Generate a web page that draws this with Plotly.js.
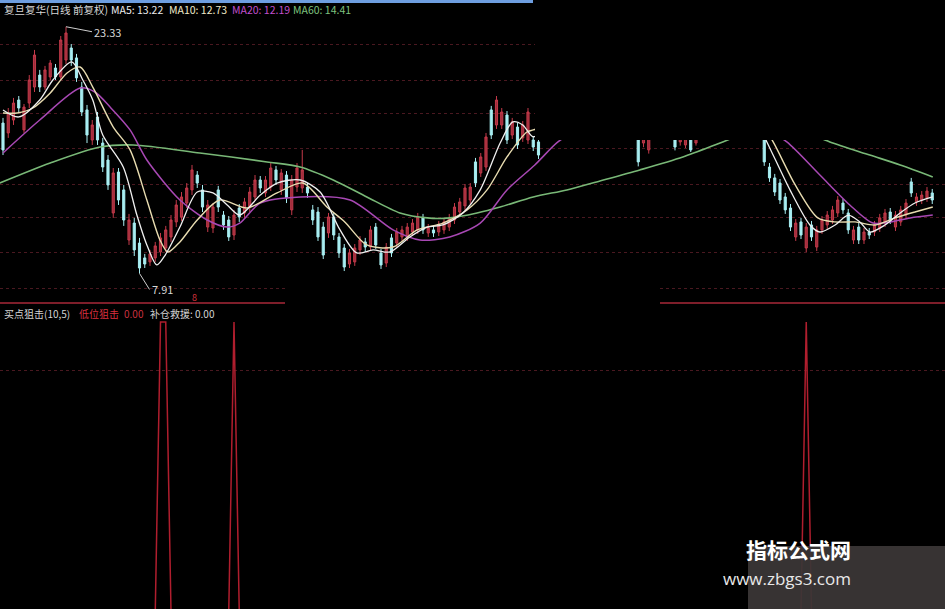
<!DOCTYPE html>
<html>
<head>
<meta charset="utf-8">
<script src="https://cdn.plot.ly/plotly-3.0.1.min.js"></script>
<style>html,body{margin:0;padding:0;background:#000;}#chart{width:945px;height:609px;}</style>
</head>
<body>
<div id="chart"></div>
<script>
// ---- candle data (price) ----
const openP = [17.31,16.69,17.5,18.75,16.88,18.56,19.56,20.31,19.56,20.19,20.75,20.19,21.25,22.0,21.38,19.56,18.13,16.25,17.69,16.06,
15.0,11.69,14.25,13.13,10.0,11.06,9.81,8.88,8.63,8.88,9.25,9.5,10.19,11.13,11.44,12.31,13.13,14.06,13.13,10.81,
10.75,13.13,11.56,11.25,10.31,12.0,11.69,12.06,12.69,13.75,12.94,13.31,14.38,13.13,14.06,11.88,13.31,13.25,13.31,11.88,
11.75,10.81,10.44,11.44,10.19,9.5,8.5,8.63,9.38,9.88,9.56,10.81,9.19,8.56,10.13,9.81,10.19,10.19,10.5,10.63,
11.38,10.44,10.63,10.5,10.63,10.81,11.25,11.75,12.13,12.5,14.88,14.19,14.56,18.13,17.19,17.19,17.81,16.56,17.06,16.38,
16.25,16.25,16.13,16.9,17.4,18.0,17.8,18.7,19.3,18.8,19.7,20.1,19.4,18.9,19.3,18.5,17.9,18.3,17.6,17.2,
17.6,17.0,16.06,15.63,16.9,17.6,18.1,17.4,16.8,16.13,15.94,16.8,16.06,16.8,17.4,18.0,18.6,18.3,18.8,19.3,
19.0,18.5,18.0,17.5,17.1,17.4,14.56,13.88,13.56,12.69,12.0,10.19,11.13,9.5,10.94,9.56,10.63,10.94,11.25,11.69,
12.31,11.69,10.0,10.81,10.0,10.5,10.5,10.75,11.06,11.75,10.81,11.13,11.56,13.63,12.38,12.5,12.63,12.94];
const highP = [17.63,18.25,18.88,19.0,18.5,20.31,21.88,20.63,20.88,21.25,21.0,22.75,23.33,22.25,21.63,19.88,18.44,17.5,18.0,16.38,
15.31,14.5,14.5,13.44,11.63,11.38,10.13,9.13,9.38,9.88,10.44,10.88,11.56,12.5,13.0,13.56,14.69,14.31,13.44,12.5,
12.31,13.38,11.81,11.5,11.88,12.25,12.63,13.31,14.06,14.0,14.0,14.81,14.63,14.44,14.31,14.06,14.81,15.63,13.56,12.19,
12.06,11.13,11.69,11.69,10.44,9.75,9.44,9.75,10.25,10.13,10.88,11.06,9.44,9.81,10.38,10.75,10.88,11.06,11.31,11.69,
11.63,11.0,10.88,11.19,11.38,11.63,12.31,12.63,13.5,13.56,15.13,15.44,16.69,18.38,19.0,18.25,18.06,17.63,17.31,17.44,
18.25,16.5,16.38,17.6,18.2,18.6,18.9,19.5,19.6,19.9,20.4,20.3,19.8,19.5,19.6,18.8,18.5,18.6,17.9,17.8,
17.9,17.3,17.5,17.3,17.8,18.3,18.4,17.6,17.1,17.2,17.0,17.1,17.2,17.6,18.2,18.8,19.1,19.0,19.5,19.7,
19.4,18.9,18.3,17.9,17.4,17.6,14.81,14.13,13.81,12.94,12.25,11.31,11.38,11.06,11.19,10.88,11.5,11.81,12.13,12.75,
12.56,11.94,10.88,11.06,10.75,10.75,11.19,11.63,11.94,12.0,11.81,12.13,12.56,13.88,12.94,13.06,13.31,13.19];
const lowP = [15.31,16.38,17.19,18.0,16.69,18.25,19.25,19.25,19.38,20.0,20.0,20.0,21.0,20.88,19.88,17.75,16.06,15.94,15.94,14.25,
13.13,11.38,12.19,10.88,9.69,9.0,7.91,8.25,8.38,8.63,9.0,9.25,9.88,10.81,11.19,12.0,12.81,13.25,11.75,10.5,
10.44,11.75,10.63,9.94,10.0,11.13,11.38,11.75,12.44,12.94,12.69,13.06,13.44,12.81,12.31,11.56,13.0,12.94,12.63,10.94,
9.94,8.81,10.13,10.0,8.88,8.06,8.25,8.38,9.06,9.25,9.31,9.44,8.19,8.31,8.94,9.56,9.94,9.94,10.25,10.38,
10.38,10.19,10.19,10.25,10.38,10.56,11.0,11.5,11.88,12.25,13.31,13.94,14.31,16.31,16.94,16.94,16.0,16.31,15.69,16.13,
16.0,15.56,15.06,16.7,17.2,17.6,17.6,18.4,18.6,18.6,19.3,19.2,18.7,18.5,18.3,17.7,17.5,17.4,16.9,16.9,
16.8,14.6,15.8,15.4,16.6,17.3,17.2,16.5,15.6,15.9,15.75,15.5,15.9,16.6,17.2,17.7,18.1,18.0,18.5,18.7,
18.3,17.8,17.3,16.9,16.6,14.63,13.63,12.75,12.25,11.63,10.56,9.94,10.06,9.25,9.94,9.31,10.38,10.69,11.0,11.44,
11.63,10.38,9.75,9.75,9.75,10.06,10.25,10.5,10.81,11.0,10.56,10.88,11.31,12.69,12.13,12.25,12.38,12.25];
const closeP = [15.63,17.94,18.56,18.25,18.31,20.0,21.56,19.56,20.63,21.06,20.19,22.5,22.94,21.25,20.13,18.0,16.56,17.19,16.25,14.56,
13.44,14.19,12.5,11.25,11.25,9.38,8.25,8.5,9.13,9.63,10.13,10.63,11.25,12.19,12.69,13.25,14.38,13.56,12.06,12.19,
12.06,12.06,10.94,10.19,11.56,11.44,12.38,13.0,13.75,13.25,13.75,14.5,13.75,14.19,12.63,13.75,14.5,14.38,12.94,11.25,
10.19,9.06,11.44,10.31,9.19,8.31,9.19,9.5,10.0,9.56,10.63,9.69,8.44,9.56,9.19,10.5,10.63,10.81,11.06,11.44,
10.63,10.75,10.44,10.94,11.13,11.38,12.06,12.38,13.25,13.31,13.56,15.19,16.44,16.56,18.75,18.0,16.25,17.38,15.94,17.19,
18.0,15.81,15.31,17.4,18.0,17.8,18.7,19.3,18.8,19.7,20.1,19.4,18.9,19.3,18.5,17.9,18.3,17.6,17.2,17.6,
17.0,14.88,17.2,16.9,17.6,18.1,17.4,16.7,15.81,16.9,16.7,15.63,16.8,17.4,18.0,18.6,18.3,18.8,19.3,19.0,
18.5,18.0,17.5,17.1,16.8,14.88,13.88,13.0,12.5,11.88,10.81,11.06,10.31,10.81,10.19,10.63,11.25,11.56,11.88,12.5,
11.88,10.63,10.63,10.0,10.5,10.31,10.94,11.38,11.69,11.25,11.56,11.88,12.31,12.94,12.69,12.81,13.06,12.5];
const dayIndex = openP.map((_, i) => i);

// ---- moving averages (bar index, price) ----
const ma5X = [0,3,7,9.5,13.1,15.2,17.1,19,22.9,25.5,27.4,29.3,30.9,33.7,37,40,42.7,45.1,49,52.2,56.6,60.4,64.2,67.4,70.5,73.7,77.5,80.8,83.8,87.6,90.9,94.7,97.1,99,101,103,106,110,114,118,122,126,130,134,138,141,143.5,145.5,149.9,153.7,155.6,158.5,161,163.2,165.1,168,170.9,173.7,177.1];
const ma5Y = [18.13,17.69,18.75,20.0,21.13,20.0,18.75,16.56,14.56,11.56,9.69,8.44,9.06,10.81,13.0,12.94,12.19,11.56,12.81,13.56,13.75,13.0,10.63,9.19,9.38,9.25,10.19,10.81,10.94,11.69,13.13,16.06,17.38,17.19,16.44,16.9,17.8,19.3,19.3,17.9,16.8,17.3,16.6,17.2,18.6,18.5,17.4,16.13,13.13,10.94,10.5,10.94,11.56,11.13,10.5,10.94,11.69,12.31,12.69];
const ma10X = [0,2.7,5.7,9,12.2,14.7,17.1,21,24.2,27.4,29.9,31.4,33.7,37,41.3,46.5,52.2,57.1,61.7,65.1,69.3,74.3,78.9,83.8,88.4,92.2,96,99.8,101,104,108,112,116,120,124,128,132,136,140,143.5,146.7,150.9,155.2,158.5,162.3,166.1,169.9,173.7,177.1];
const ma10Y = [17.94,17.94,18.25,19.19,20.44,20.81,19.56,17.06,15.63,12.5,10.0,9.25,9.88,11.25,12.5,12.0,12.94,13.56,12.06,11.13,9.69,9.56,10.63,11.06,11.88,13.13,15.19,16.75,16.88,17.2,18.0,18.9,18.8,18.0,17.4,17.1,17.0,17.5,18.2,17.8,16.13,13.44,11.38,11.13,11.13,10.94,11.38,11.75,12.06];
const ma20X = [0,7,14.7,17.5,20.4,24.2,27.4,33.7,38.9,42.7,45.1,49,56.6,66.1,74.3,79.4,85.1,90.9,96,101.3,105.7,110,115,120,125,130,135,140,145,149.3,155.6,161.3,165.7,169,172.8,177.1];
const ma20Y = [15.44,17.5,19.5,19.25,18.31,16.88,15.0,12.5,11.25,10.81,11.06,12.31,12.69,12.5,10.63,10.0,10.19,11.06,13.13,14.69,16.13,17.0,17.7,17.9,17.6,17.4,17.4,17.6,17.0,16.13,14.06,12.19,11.06,11.13,11.38,11.56];
const ma60X = [-0.6,9,18.5,24.8,37.5,50.3,56.6,62.9,69.3,75.6,80.8,85.1,90.3,94.7,101,107.4,113.7,121.3,129.5,137.1,144.2,150.9,157.5,165.1,170.9,177.1];
const ma60Y = [13.56,14.81,15.81,15.94,15.44,14.88,14.56,13.75,12.69,11.69,11.38,11.38,11.69,12.06,12.69,13.13,13.69,14.38,15.19,16.13,17.0,17.0,16.13,15.31,14.69,13.94];

// ---- lower indicator (买点狙击) sparse readings ----
const sigX = [0,29,30,31,32,43,44,45,152,153,154,177];
const sigY = [0,0,100,100,0,0,100,0,0,100,0,0];

// ---- labels ----
const titleMain = '复旦复华(日线 前复权)';
const maLabels = ['MA5: 13.22','MA10: 12.73','MA20: 12.19','MA60: 14.41'];
const lowerLabels = ['买点狙击(10,5)','低位狙击','0.00','补仓救援: 0.00'];
const highLabel = '23.33', lowLabel = '7.91';
const gridPrices = [22.19,20.0,17.88,15.69,13.5,11.38,9.19,7.0];
const gridSignal = [83.4];

const W = 945, H = 609;
const px = x => x / W;
const py = y => 1 - y / H;
const FONT = 'Noto Sans CJK SC, Liberation Sans, sans-serif';

const traces = [
  {type:'candlestick', x: dayIndex, open: openP, high: highP, low: lowP, close: closeP,
   xaxis:'x', yaxis:'y', hoverinfo:'skip', whiskerwidth:0,
   increasing:{line:{color:'#c43a4a', width:1}, fillcolor:'#9c2c3a'},
   decreasing:{line:{color:'#a8eef2', width:1}, fillcolor:'#a8eef2'}},
  {type:'scatter', mode:'lines', x: ma60X, y: ma60Y, line:{color:'#79b877', width:1.6, shape:'spline', smoothing:0.8}, hoverinfo:'skip'},
  {type:'scatter', mode:'lines', x: ma20X, y: ma20Y, line:{color:'#a848b4', width:1.5, shape:'spline', smoothing:0.8}, hoverinfo:'skip'},
  {type:'scatter', mode:'lines', x: ma10X, y: ma10Y, line:{color:'#e8dcb0', width:1.4, shape:'spline', smoothing:0.8}, hoverinfo:'skip'},
  {type:'scatter', mode:'lines', x: ma5X, y: ma5Y, line:{color:'#f0f0f0', width:1.3, shape:'spline', smoothing:0.8}, hoverinfo:'skip'},
  {type:'scatter', mode:'lines', x: sigX, y: sigY, xaxis:'x', yaxis:'y2', line:{color:'#b01e2e', width:1.5}, hoverinfo:'skip'}
];

const maColors = ['#ececec','#efe9c8','#c24fcc','#7ec27e'];
const maPos = [109,167,230,291];
const ann = [
  {xref:'paper', yref:'paper', x: px(2), y: py(10), xanchor:'left', yanchor:'middle', text: titleMain, showarrow:false, font:{family:FONT, size:10.5, color:'#d6d6d6'}}
];
maLabels.forEach((t,k) => ann.push({xref:'paper', yref:'paper', x: px(maPos[k]), y: py(10), xanchor:'left', yanchor:'middle', text:t, showarrow:false, font:{family:FONT, size:10.5, color:maColors[k]}}));
const lowColors = ['#d4d4d4','#d8303f','#c8303f','#d4d4d4'];
const lowPos = [2,77,122,148];
lowerLabels.forEach((t,k) => ann.push({xref:'paper', yref:'paper', x: px(lowPos[k]), y: py(313), xanchor:'left', yanchor:'middle', text:t, showarrow:false, font:{family:FONT, size:10, color:lowColors[k]}}));
ann.push({xref:'x', yref:'y', x: 12, y: 23.33, text: highLabel, showarrow:true, arrowhead:0, arrowwidth:1, arrowcolor:'#cfcfcf', ax: 26, ay: 5, xanchor:'left', font:{family:FONT, size:11, color:'#d6d6d6'}});
ann.push({xref:'x', yref:'y', x: 26, y: 7.91, text: lowLabel, showarrow:true, arrowhead:0, arrowwidth:1, arrowcolor:'#cfcfcf', ax: 10, ay: 16, xanchor:'left', font:{family:FONT, size:11, color:'#d6d6d6'}});
ann.push({xref:'paper', yref:'paper', x: px(190), y: py(297), text:'8', showarrow:false, font:{family:FONT, size:9, color:'#d0303c'}});
ann.push({xref:'paper', yref:'paper', x: px(853), y: py(566), text:'<b>指标公式网</b>', showarrow:false, font:{family:FONT, size:21, color:'#ffffff'}});
ann.push({xref:'paper', yref:'paper', x: px(853), y: py(592), text:'www.zbgs3.com', showarrow:false, font:{family:'Open Sans, DejaVu Sans, sans-serif', size:17, color:'#e8e8e8'}});

const shapes = [
  // masked top-right area of the screenshot
  {type:'rect', xref:'paper', yref:'paper', x0: px(535), x1: 1, y0: py(140), y1: 1, fillcolor:'#000', line:{width:0}, layer:'above'},
  // masked strip around the separator
  {type:'rect', xref:'paper', yref:'paper', x0: px(285), x1: px(660), y0: py(309), y1: py(277), fillcolor:'#000', line:{width:0}, layer:'above'},
  // blue title strip
  {type:'rect', xref:'paper', yref:'paper', x0: 0, x1: px(533), y0: py(3), y1: 1, fillcolor:'#6e9ee0', line:{width:0}, layer:'above'},
  // separator line
  {type:'line', xref:'paper', yref:'paper', x0: 0, x1: px(285), y0: py(303), y1: py(303), line:{color:'#a82838', width:1.5}, layer:'above'},
  {type:'line', xref:'paper', yref:'paper', x0: px(660), x1: 1, y0: py(303), y1: py(303), line:{color:'#a82838', width:1.5}, layer:'above'},
  // watermark box
  {type:'rect', xref:'paper', yref:'paper', x0: px(748), x1: 1, y0: 0, y1: py(546), fillcolor:'rgba(58,54,54,0.94)', line:{width:0}, layer:'above'}
];

const gridStyle = {showgrid:true, gridcolor:'#4a1820', gridwidth:1, griddash:'dot', zeroline:false, showticklabels:false, ticks:'', showline:false, fixedrange:true};

const layout = {
  width: W, height: H,
  margin:{l:0, r:0, t:0, b:0, pad:0},
  paper_bgcolor:'#000', plot_bgcolor:'#000',
  showlegend:false, boxgap:0.42, hovermode:false,
  xaxis:{range:[-0.571, 179.43], showgrid:false, zeroline:false, showticklabels:false, ticks:'', showline:false, fixedrange:true, rangeslider:{visible:false}},
  yaxis:Object.assign({domain:[py(300), 1], range:[6.25, 25], tickvals: gridPrices}, gridStyle),
  yaxis2:Object.assign({domain:[0, py(303)], range:[1.03, 106.55], tickvals: gridSignal}, gridStyle),
  annotations: ann,
  shapes: shapes
};

Plotly.newPlot('chart', traces, layout, {staticPlot:true, displayModeBar:false});
</script>
</body>
</html>
